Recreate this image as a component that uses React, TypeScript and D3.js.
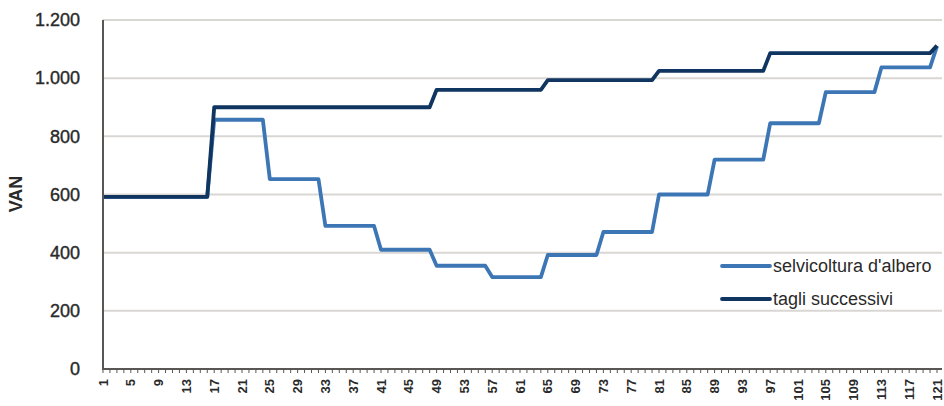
import React from "react";
import * as d3 from "d3";

const categories: number[] = Array.from({ length: 121 }, (_, i) => i + 1);

const selvicolturaAlbero: number[] = [
  592, 592, 592, 592, 592, 592, 592, 592, 592, 592, 592, 592, 592, 592, 592, 592,
  857, 857, 857, 857, 857, 857, 857, 857,
  653, 653, 653, 653, 653, 653, 653, 653,
  492, 492, 492, 492, 492, 492, 492, 492,
  410, 410, 410, 410, 410, 410, 410, 410,
  355, 355, 355, 355, 355, 355, 355, 355,
  316, 316, 316, 316, 316, 316, 316, 316,
  392, 392, 392, 392, 392, 392, 392, 392,
  471, 471, 471, 471, 471, 471, 471, 471,
  600, 600, 600, 600, 600, 600, 600, 600,
  720, 720, 720, 720, 720, 720, 720, 720,
  845, 845, 845, 845, 845, 845, 845, 845,
  952, 952, 952, 952, 952, 952, 952, 952,
  1037, 1037, 1037, 1037, 1037, 1037, 1037, 1037,
  1110,
];

const tagliSuccessivi: number[] = [
  592, 592, 592, 592, 592, 592, 592, 592, 592, 592, 592, 592, 592, 592, 592, 592,
  900, 900, 900, 900, 900, 900, 900, 900, 900, 900, 900, 900, 900, 900, 900, 900,
  900, 900, 900, 900, 900, 900, 900, 900, 900, 900, 900, 900, 900, 900, 900, 900,
  960, 960, 960, 960, 960, 960, 960, 960, 960, 960, 960, 960, 960, 960, 960, 960,
  993, 993, 993, 993, 993, 993, 993, 993, 993, 993, 993, 993, 993, 993, 993, 993,
  1025, 1025, 1025, 1025, 1025, 1025, 1025, 1025, 1025, 1025, 1025, 1025, 1025, 1025, 1025, 1025,
  1086, 1086, 1086, 1086, 1086, 1086, 1086, 1086, 1086, 1086, 1086, 1086,
  1086, 1086, 1086, 1086, 1086, 1086, 1086, 1086, 1086, 1086, 1086, 1086,
  1112,
];

const yTicks: number[] = [0, 200, 400, 600, 800, 1000, 1200];
const yTickLabels: string[] = ["0", "200", "400", "600", "800", "1.000", "1.200"];
const seriesNames: string[] = ["selvicoltura d'albero", "tagli successivi"];
const seriesColors: string[] = ["#3d76b5", "#0f3560"];

export default function App() {
  const W = 944;
  const H = 406;
  const left = 103;
  const right = 937;
  const top = 20;
  const bottom = 369;

  const x = d3.scaleLinear().domain([1, 121]).range([left, right]);
  const y = d3.scaleLinear().domain([0, 1200]).range([bottom, top]);

  const line = d3
    .line<number>()
    .x((_, i) => x(categories[i]))
    .y((d) => y(d));

  const font = "'Liberation Sans', Arial, sans-serif";
  const textColor = "#2a2a2a";
  const xLabelCats = categories.filter((c) => (c - 1) % 4 === 0);

  return (
    <svg
      width={W}
      height={H}
      style={{ position: "absolute", left: 0, top: 0, background: "#fff" }}
      fontFamily={font}
    >
      {/* gridlines */}
      {yTicks.filter((t) => t > 0).map((t) => (
        <line
          key={"g" + t}
          x1={left}
          x2={942}
          y1={y(t)}
          y2={y(t)}
          stroke="#d9d7d4"
          strokeWidth={2}
        />
      ))}
      {/* y labels */}
      {yTicks.map((t, i) => (
        <text
          key={"yl" + t}
          x={80}
          y={y(t)}
          dy="0.35em"
          textAnchor="end"
          fontSize={18}
          fill={textColor}
          stroke={textColor}
          strokeWidth={0.4}
        >
          {yTickLabels[i]}
        </text>
      ))}
      <text
        transform={`translate(16, ${194}) rotate(-90)`}
        textAnchor="middle"
        dy="0.35em"
        fontSize={18}
        fontWeight="bold"
        fill={textColor}
      >
        VAN
      </text>
      {/* series */}
      <path
        d={line(selvicolturaAlbero) || ""}
        fill="none"
        stroke={seriesColors[0]}
        strokeWidth={3.8}
        strokeLinejoin="round"
      />
      <path
        d={line(tagliSuccessivi) || ""}
        fill="none"
        stroke={seriesColors[1]}
        strokeWidth={3.8}
        strokeLinejoin="round"
      />
      {/* axes */}
      <line x1={left} x2={left} y1={top} y2={bottom} stroke="#5a5654" strokeWidth={2} />
      <line x1={left - 1} x2={942} y1={bottom} y2={bottom} stroke="#5a5654" strokeWidth={2} />
      {categories.map((c) => (
        <line
          key={"t" + c}
          x1={x(c)}
          x2={x(c)}
          y1={bottom}
          y2={bottom + 4}
          stroke="#5a5654"
          strokeWidth={1}
        />
      ))}
      {xLabelCats.map((c) => (
        <text
          key={"xl" + c}
          transform={`translate(${x(c)}, ${bottom + 10}) rotate(-90)`}
          textAnchor="end"
          dy="0.35em"
          fontSize={13}
          fontWeight="bold"
          fill={textColor}
        >
          {c}
        </text>
      ))}
      {/* legend */}
      {seriesNames.map((n, i) => (
        <g key={"lg" + i} transform={`translate(722, ${266 + i * 33})`}>
          <line x1={0} x2={48} y1={0} y2={0} stroke={seriesColors[i]} strokeWidth={3.8} strokeLinecap="round" />
          <text x={51} y={0} dy="0.35em" fontSize={18} fill={textColor}>
            {n}
          </text>
        </g>
      ))}
    </svg>
  );
}
